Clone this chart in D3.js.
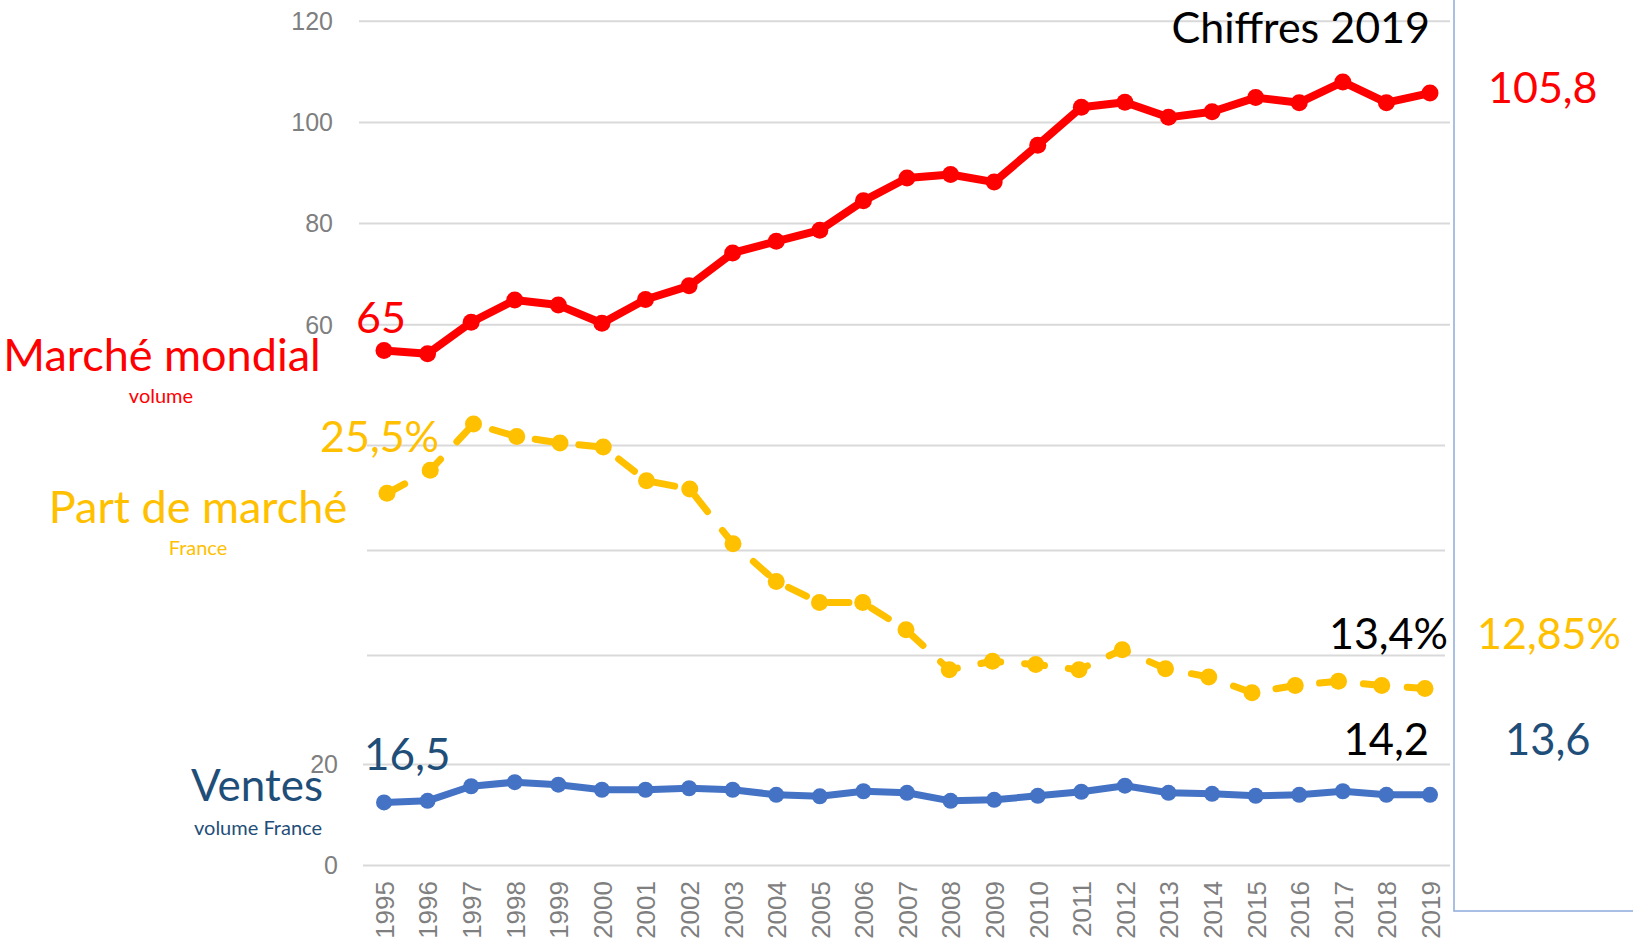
<!DOCTYPE html>
<html lang="fr">
<head>
    <meta charset="UTF-8">
    <title>Marché mondial, part de marché et ventes 1995-2019</title>
    <script src="https://d3js.org/d3.v7.min.js"></script>
    <style>
        body { margin: 0; background: #fff; }
        svg { display: block; font-family: Lato, "Open Sans", sans-serif; }
        .grid line { stroke: #d9d9d9; stroke-width: 2; }
        .grid text { fill: #7f7f7f; font-size: 25px; }
        .years text { fill: #7f7f7f; font-size: 26px; }
        .serie { fill: none; stroke-linejoin: round; }
    </style>
</head>
<body>

<div id="chart"></div>

<script>
    // categories
    const years = ["1995", "1996", "1997", "1998", "1999", "2000", "2001", "2002", "2003",
        "2004", "2005", "2006", "2007", "2008", "2009", "2010", "2011", "2012", "2013",
        "2014", "2015", "2016", "2017", "2018", "2019"];

    // marché mondial (volume)
    const marcheMondial = [54.8, 54.2, 60.4, 64.8, 63.8, 60.2, 64.9, 67.6, 74.1, 76.4, 78.6, 84.4,
        88.9, 89.6, 88.1, 95.4, 102.9, 103.9, 100.9, 102.0, 104.8, 103.8, 107.9, 103.8, 105.7];

    // part de marché France (%)
    const partMarche = [22.7, 23.8, 26.0, 25.4, 25.1, 24.9, 23.3, 22.9, 20.3, 18.5, 17.5, 17.5,
        16.2, 14.3, 14.7, 14.55, 14.3, 15.25, 14.35, 13.95, 13.2, 13.55, 13.75, 13.55, 13.4];

    // ventes volume France
    const ventes = [12.4, 12.7, 15.6, 16.4, 15.9, 14.9, 14.9, 15.2, 14.9, 13.9, 13.6, 14.6,
        14.3, 12.7, 12.9, 13.7, 14.5, 15.7, 14.3, 14.1, 13.7, 13.9, 14.6, 13.9, 13.9];

    // tick values for each band
    const topTicks = [60, 80, 100, 120];
    const midTicks = [15, 20, 25];
    const bottomTicks = [0, 20];

    const width = 1633;
    const height = 944;

    const svg = d3.select("#chart")
        .append("svg")
        .attr("width", width)
        .attr("height", height);

    // one x scale, three stacked y scales
    const x = d3.scalePoint().domain(years).range([384, 1430]);
    const xMid = d3.scalePoint().domain(years).range([387, 1425]);

    const yTop = d3.scaleLinear().domain([60, 120]).range([324.3, 20.7]);
    const yMid = d3.scaleLinear().domain([15, 25]).range([655, 445]);
    const yBot = d3.scaleLinear().domain([0, 20]).range([865, 764]);

    function grid(scale, ticks, left, right, showLabels, pad) {
        const g = svg.append("g")
            .attr("class", "grid")
            .attr("transform", "translate(" + left + ",0)")
            .call(d3.axisLeft(scale)
                .tickValues(ticks)
                .tickSize(-(right - left))
                .tickPadding(pad)
                .tickFormat(showLabels ? d3.format("d") : ""));
        g.select(".domain").remove();
        g.selectAll("text").attr("dy", "0.35em");
    }

    grid(yTop, topTicks, 359, 1450, true, 26);
    grid(yMid, midTicks, 367, 1445, false, 0);
    grid(yBot, bottomTicks, 363, 1450, true, 25);

    // year labels, rotated
    const xAxis = svg.append("g")
        .attr("class", "years")
        .attr("transform", "translate(0,865)")
        .call(d3.axisBottom(x).tickSize(0));
    xAxis.select(".domain").remove();
    xAxis.selectAll("text")
        .attr("transform", "translate(0,16) rotate(-90)")
        .attr("text-anchor", "end")
        .attr("x", 0)
        .attr("y", 0)
        .attr("dy", "0.36em");

    // series
    function serie(values, xs, ys, color, w, r, dash) {
        const line = d3.line()
            .x((d, i) => xs(years[i]))
            .y(d => ys(d));
        const p = svg.append("path")
            .datum(values)
            .attr("class", "serie")
            .attr("stroke", color)
            .attr("stroke-width", w)
            .attr("d", line);
        if (dash) p.attr("stroke-dasharray", dash).attr("stroke-linecap", "round");
        svg.append("g")
            .selectAll("circle")
            .data(values)
            .join("circle")
            .attr("cx", (d, i) => xs(years[i]))
            .attr("cy", d => ys(d))
            .attr("r", r)
            .attr("fill", color);
    }

    serie(marcheMondial, x, yTop, "#ff0000", 8, 8.5);
    serie(partMarche, xMid, yMid, "#ffc000", 7, 8.5, "20,24");
    serie(ventes, x, yBot, "#4472c4", 7, 8);

    // frame on the right
    svg.append("path")
        .attr("d", "M1454,0V911H" + width)
        .attr("fill", "none")
        .attr("stroke", "#8faadc")
        .attr("stroke-width", 1.5);

    // annotations
    const notes = [
        { t: "Chiffres 2019", x: 1430, y: 43, size: 43, color: "#000", anchor: "end" },
        { t: "105,8", x: 1488, y: 103, size: 43, color: "#ff0000", anchor: "start" },
        { t: "65", x: 356, y: 333, size: 43, color: "#ff0000", anchor: "start" },
        { t: "Marché mondial", x: 162, y: 371, size: 45, color: "#ff0000", anchor: "middle" },
        { t: "volume", x: 161, y: 403, size: 20, color: "#ff0000", anchor: "middle" },
        { t: "25,5%", x: 320, y: 452, size: 43, color: "#ffc000", anchor: "start" },
        { t: "Part de marché", x: 198, y: 523, size: 45, color: "#ffc000", anchor: "middle" },
        { t: "France", x: 198, y: 555, size: 20, color: "#ffc000", anchor: "middle" },
        { t: "13,4%", x: 1448, y: 649, size: 43, color: "#000", anchor: "end" },
        { t: "12,85%", x: 1477, y: 649, size: 43, color: "#ffc000", anchor: "start" },
        { t: "16,5", x: 364, y: 770, size: 44, color: "#1f4e79", anchor: "start" },
        { t: "Ventes", x: 323, y: 801, size: 44, color: "#1f4e79", anchor: "end" },
        { t: "volume France", x: 322, y: 835, size: 20, color: "#1f4e79", anchor: "end" },
        { t: "14,2", x: 1429, y: 755, size: 43.5, color: "#000", anchor: "end" },
        { t: "13,6", x: 1505, y: 755, size: 43.5, color: "#1f4e79", anchor: "start" }
    ];

    svg.append("g")
        .selectAll("text")
        .data(notes)
        .join("text")
        .attr("x", d => d.x)
        .attr("y", d => d.y)
        .attr("text-anchor", d => d.anchor)
        .attr("font-size", d => d.size)
        .attr("fill", d => d.color)
        .text(d => d.t);
</script>

</body>
</html>
